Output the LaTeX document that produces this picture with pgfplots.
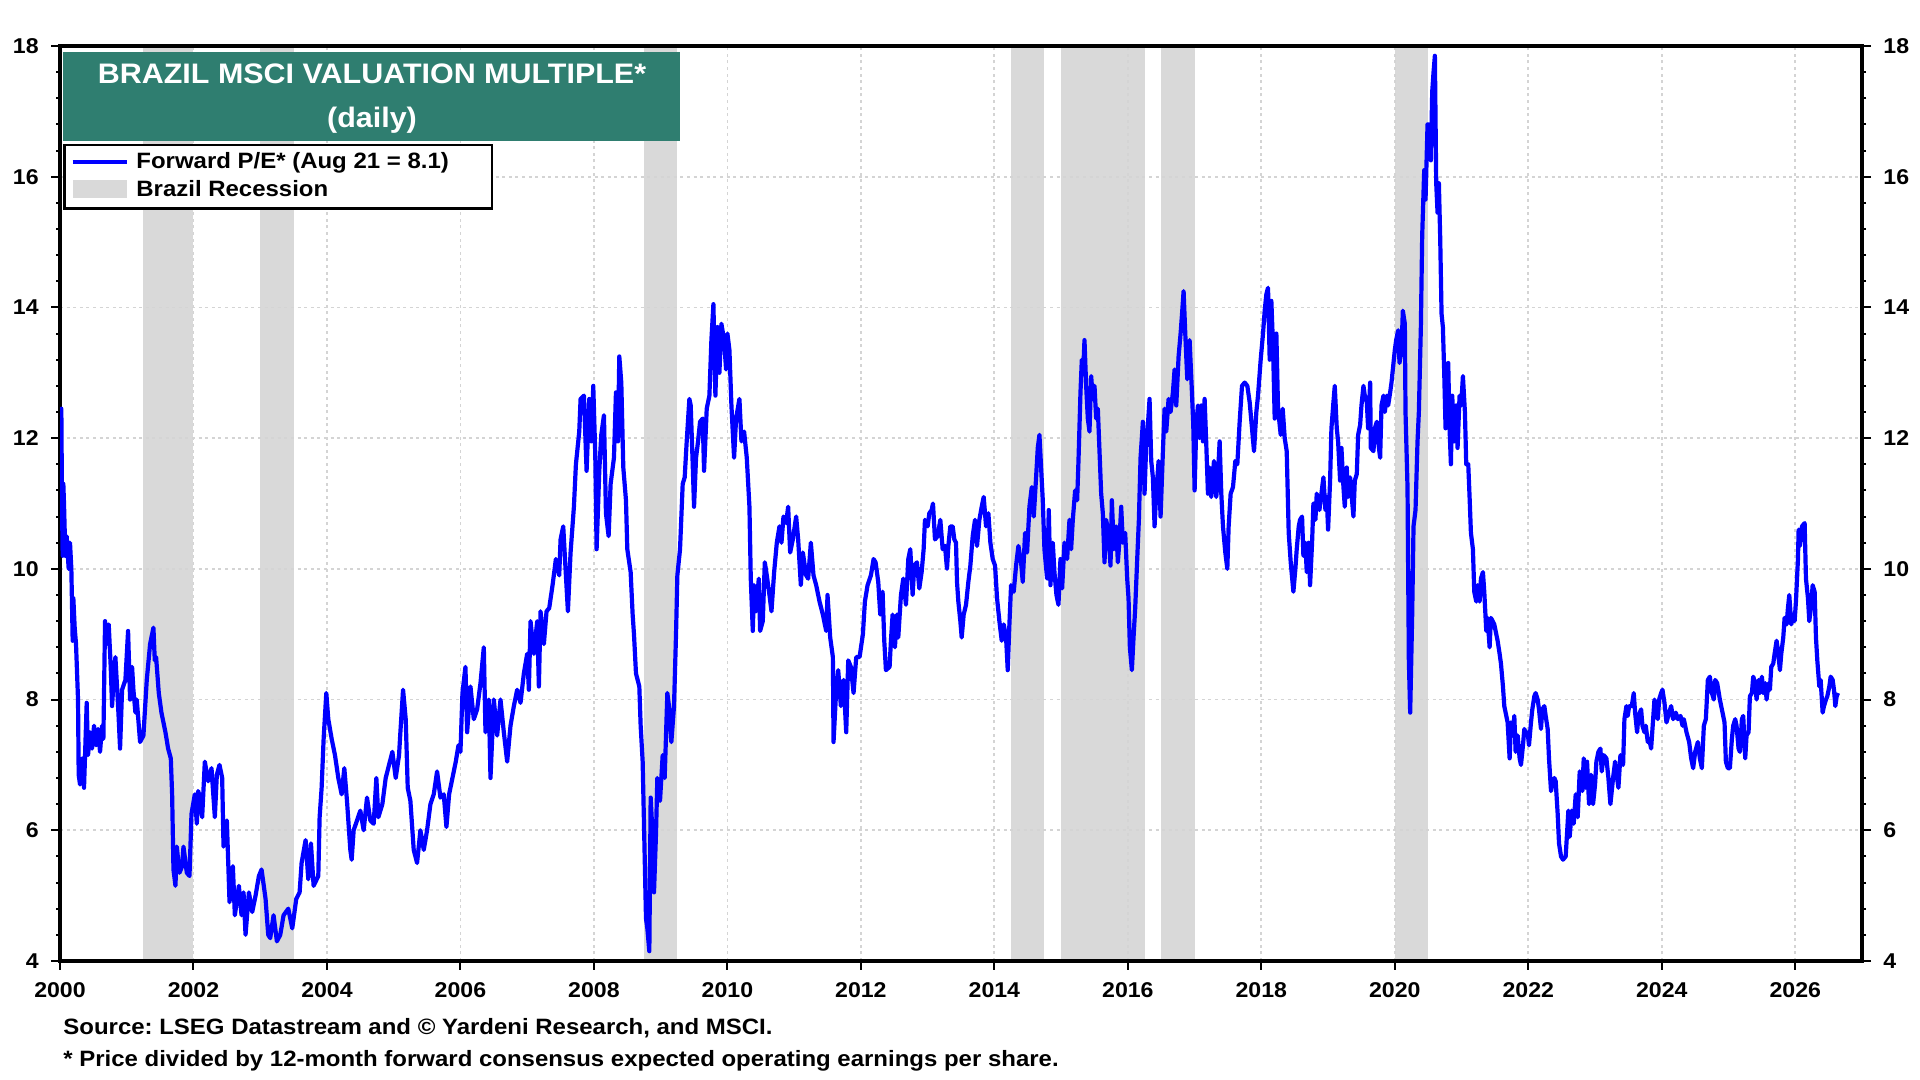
\documentclass[border=0pt]{standalone}
\usepackage{pgfplots}
\pgfplotsset{compat=1.18}
\usepackage{fontspec}
\setmainfont[FakeStretch=1.08]{Liberation Sans}
\definecolor{titlegreen}{RGB}{47,126,112}
\definecolor{bandgray}{RGB}{217,217,217}
\definecolor{gridgray}{RGB}{212,212,212}
\definecolor{pblue}{RGB}{0,0,255}
\begin{document}
\frenchspacing
\begin{tikzpicture}
\begin{axis}[
 set layers,
 at={(30pt,59.5pt)}, anchor=south west,
 scale only axis, width=901pt, height=457.5pt,
 xmin=2000, xmax=2027, ymin=4, ymax=18,
 xtick={2000,2002,...,2026},
 xticklabels={2000,2002,2004,2006,2008,2010,2012,2014,2016,2018,2020,2022,2024,2026},
 minor x tick num=7,
 ytick={4,6,...,18}, minor y tick num=4,
 xtick pos=bottom, ytick pos=left,
 tick align=outside,
 major tick length=4.5pt, minor tick length=2pt,
 tick style={black, line width=1pt},
 grid=major,
 major grid style={gridgray, line width=0.9pt, dash pattern=on 1.5pt off 1.8pt},
 axis line style={line width=1.6pt},
 tick label style={font=\bfseries\fontsize{10.7}{12}\selectfont},
 /pgf/number format/assume math mode=true,
 xticklabel style={inner sep=0pt, anchor=north, yshift=-6pt},
 yticklabel style={inner sep=0pt, anchor=east, xshift=-6pt},
]
\addplot[fill=bandgray, draw=none, on layer=axis background] coordinates {(2001.24,4) (2001.24,18) (2002,18) (2002,4)} -- cycle;
\addplot[fill=bandgray, draw=none, on layer=axis background] coordinates {(2003,4) (2003,18) (2003.5,18) (2003.5,4)} -- cycle;
\addplot[fill=bandgray, draw=none, on layer=axis background] coordinates {(2008.75,4) (2008.75,18) (2009.25,18) (2009.25,4)} -- cycle;
\addplot[fill=bandgray, draw=none, on layer=axis background] coordinates {(2014.25,4) (2014.25,18) (2014.75,18) (2014.75,4)} -- cycle;
\addplot[fill=bandgray, draw=none, on layer=axis background] coordinates {(2015,4) (2015,18) (2016.25,18) (2016.25,4)} -- cycle;
\addplot[fill=bandgray, draw=none, on layer=axis background] coordinates {(2016.5,4) (2016.5,18) (2017,18) (2017,4)} -- cycle;
\addplot[fill=bandgray, draw=none, on layer=axis background] coordinates {(2020,4) (2020,18) (2020.5,18) (2020.5,4)} -- cycle;
\addplot[pblue, line width=2.1pt, line join=round] coordinates {
(2000.00,11.3) (2000.02,12.45) (2000.03,11.0) (2000.04,10.2) (2000.05,11.3) (2000.06,11.0) (2000.08,10.2) (2000.10,10.5) (2000.13,10.0) (2000.15,10.4) (2000.17,10.0) (2000.19,8.9) (2000.20,9.55) (2000.22,9.1) (2000.24,8.85) (2000.27,8.0) (2000.28,6.85) (2000.30,6.7) (2000.33,7.1) (2000.36,6.65) (2000.40,7.95) (2000.42,7.15) (2000.45,7.5) (2000.48,7.25) (2000.51,7.6) (2000.54,7.3) (2000.57,7.55) (2000.60,7.2) (2000.63,7.6) (2000.65,7.4) (2000.675,9.2) (2000.70,8.85) (2000.73,9.15) (2000.76,8.5) (2000.78,7.9) (2000.81,8.4) (2000.83,8.65) (2000.86,8.1) (2000.88,7.7) (2000.90,7.25) (2000.93,8.15) (2000.98,8.3) (2001.02,9.05) (2001.05,8.0) (2001.08,8.5) (2001.10,8.15) (2001.13,7.8) (2001.15,8.0) (2001.20,7.35) (2001.25,7.45) (2001.30,8.3) (2001.35,8.85) (2001.40,9.1) (2001.42,8.6) (2001.44,8.65) (2001.48,8.1) (2001.52,7.8) (2001.58,7.5) (2001.62,7.25) (2001.66,7.1) (2001.68,6.55) (2001.70,5.4) (2001.73,5.15) (2001.75,5.75) (2001.79,5.35) (2001.83,5.45) (2001.85,5.75) (2001.90,5.35) (2001.94,5.3) (2001.97,6.25)
(2002.02,6.55) (2002.05,6.1) (2002.07,6.6) (2002.10,6.5) (2002.13,6.2) (2002.17,7.05) (2002.22,6.75) (2002.27,6.95) (2002.32,6.2) (2002.35,6.85) (2002.39,7.0) (2002.43,6.8) (2002.45,5.75) (2002.50,6.15) (2002.54,4.9) (2002.59,5.45) (2002.62,4.7) (2002.68,5.15) (2002.72,4.7) (2002.75,5.05) (2002.78,4.4) (2002.83,5.05) (2002.88,4.75) (2002.93,5.0) (2002.98,5.3) (2003.02,5.4) (2003.08,4.95) (2003.12,4.4) (2003.15,4.35) (2003.20,4.7) (2003.25,4.3) (2003.30,4.4) (2003.35,4.7) (2003.42,4.8) (2003.48,4.5) (2003.54,4.95) (2003.59,5.05) (2003.62,5.5) (2003.68,5.85) (2003.72,5.25) (2003.76,5.8) (2003.80,5.15) (2003.87,5.3) (2003.89,6.2) (2003.92,6.65) (2003.95,7.4) (2003.99,8.1)
(2004.02,7.7) (2004.07,7.4) (2004.12,7.15) (2004.17,6.8) (2004.22,6.55) (2004.26,6.95) (2004.30,6.45) (2004.35,5.7) (2004.37,5.55) (2004.40,6.0) (2004.45,6.15) (2004.50,6.3) (2004.55,6.0) (2004.60,6.5) (2004.65,6.15) (2004.70,6.1) (2004.74,6.8) (2004.77,6.2) (2004.83,6.4) (2004.88,6.8) (2004.93,7.0) (2004.98,7.2) (2005.03,6.8) (2005.08,7.15) (2005.10,7.5) (2005.14,8.15) (2005.18,7.7) (2005.21,6.65) (2005.25,6.45) (2005.30,5.7) (2005.35,5.5) (2005.40,6.0) (2005.45,5.7) (2005.50,6.0) (2005.55,6.4) (2005.60,6.55) (2005.65,6.9) (2005.70,6.5) (2005.75,6.55) (2005.79,6.05) (2005.83,6.55) (2005.88,6.8) (2005.93,7.05) (2005.97,7.3)
(2006.00,7.2) (2006.03,8.1) (2006.075,8.5) (2006.10,7.5) (2006.15,8.2) (2006.20,7.7) (2006.25,7.85) (2006.30,8.25) (2006.35,8.8) (2006.375,7.5) (2006.425,8.0) (2006.45,6.8) (2006.50,8.0) (2006.55,7.45) (2006.60,8.0) (2006.65,7.5) (2006.70,7.05) (2006.75,7.6) (2006.80,7.9) (2006.85,8.15) (2006.90,7.95) (2006.95,8.4) (2007.00,8.7) (2007.025,8.15) (2007.05,9.2) (2007.10,8.7) (2007.15,9.2) (2007.175,8.2) (2007.20,9.35) (2007.25,8.85) (2007.29,9.35) (2007.33,9.4) (2007.38,9.75) (2007.43,10.15) (2007.48,9.9) (2007.50,10.45) (2007.54,10.65) (2007.58,9.9) (2007.61,9.35) (2007.65,10.25) (2007.70,10.95) (2007.73,11.6) (2007.78,12.1) (2007.80,12.6) (2007.85,12.65) (2007.89,11.5) (2007.93,12.6) (2007.96,11.95) (2007.99,12.8)
(2008.02,11.75) (2008.04,10.3) (2008.08,11.5) (2008.11,12.05) (2008.15,12.35) (2008.18,10.85) (2008.22,10.5) (2008.25,11.3) (2008.30,11.7) (2008.33,12.7) (2008.36,11.95) (2008.38,13.25) (2008.41,12.85) (2008.44,11.55) (2008.48,11.05) (2008.50,10.3) (2008.55,9.95) (2008.58,9.3) (2008.60,9.0) (2008.63,8.4) (2008.68,8.2) (2008.70,7.6) (2008.73,7.05) (2008.75,6.1) (2008.78,4.65) (2008.80,4.5) (2008.83,4.15) (2008.85,6.5) (2008.88,5.9) (2008.90,5.05) (2008.93,5.95) (2008.95,6.8) (2008.99,6.45) (2009.03,7.15) (2009.06,6.8) (2009.10,8.1) (2009.13,7.85) (2009.16,7.35) (2009.20,7.9) (2009.23,9.0) (2009.25,9.9) (2009.29,10.3) (2009.33,11.3) (2009.36,11.4) (2009.39,11.95) (2009.43,12.6) (2009.45,12.5) (2009.48,11.6) (2009.50,10.95) (2009.53,11.7) (2009.56,11.95) (2009.59,12.25) (2009.63,12.3) (2009.65,11.5) (2009.69,12.45) (2009.73,12.65) (2009.76,13.5) (2009.79,14.05) (2009.82,12.65) (2009.85,13.7) (2009.88,13.0) (2009.91,13.75) (2009.95,13.5) (2009.98,13.05)
(2010.00,13.6) (2010.03,13.35) (2010.06,12.5) (2010.10,11.7) (2010.13,12.3) (2010.18,12.6) (2010.21,11.95) (2010.25,12.1) (2010.29,11.7) (2010.33,10.95) (2010.35,9.85) (2010.38,9.05) (2010.40,9.75) (2010.43,9.35) (2010.47,9.85) (2010.49,9.05) (2010.53,9.2) (2010.56,10.1) (2010.59,9.9) (2010.63,9.6) (2010.66,9.35) (2010.70,9.95) (2010.74,10.4) (2010.78,10.65) (2010.81,10.4) (2010.84,10.8) (2010.88,10.7) (2010.91,10.95) (2010.94,10.25) (2010.98,10.45) (2011.03,10.8) (2011.06,10.45) (2011.10,9.75) (2011.13,10.25) (2011.18,9.9) (2011.21,9.85) (2011.25,10.4) (2011.29,9.9) (2011.33,9.75) (2011.38,9.5) (2011.43,9.3) (2011.48,9.05) (2011.50,9.6) (2011.54,8.95) (2011.58,8.65) (2011.59,7.35) (2011.63,8.15) (2011.66,8.45) (2011.70,7.9) (2011.74,8.3) (2011.78,7.5) (2011.81,8.6) (2011.85,8.5) (2011.89,8.1) (2011.93,8.65) (2011.98,8.65)
(2012.03,9.0) (2012.06,9.5) (2012.10,9.75) (2012.15,9.9) (2012.19,10.15) (2012.22,10.1) (2012.26,9.8) (2012.29,9.3) (2012.325,9.65) (2012.35,8.9) (2012.375,8.45) (2012.43,8.5) (2012.45,8.9) (2012.475,9.3) (2012.51,8.8) (2012.54,9.3) (2012.56,8.95) (2012.60,9.6) (2012.635,9.85) (2012.675,9.45) (2012.71,10.15) (2012.74,10.3) (2012.775,9.6) (2012.80,10.05) (2012.84,10.1) (2012.875,9.7) (2012.91,9.95) (2012.94,10.3) (2012.96,10.75)
(2013.00,10.65) (2013.025,10.85) (2013.06,10.9) (2013.08,11.0) (2013.11,10.45) (2013.15,10.5) (2013.19,10.75) (2013.225,10.3) (2013.26,10.35) (2013.29,10.0) (2013.31,10.35) (2013.34,10.65) (2013.375,10.65) (2013.40,10.45) (2013.425,10.4) (2013.44,9.8) (2013.46,9.5) (2013.49,9.2) (2013.51,8.95) (2013.54,9.3) (2013.575,9.45) (2013.61,9.8) (2013.64,10.05) (2013.675,10.5) (2013.71,10.75) (2013.74,10.35) (2013.775,10.75) (2013.81,10.95) (2013.84,11.1) (2013.875,10.65) (2013.91,10.85) (2013.94,10.4) (2013.975,10.15)
(2014.01,10.05) (2014.04,9.55) (2014.075,9.2) (2014.11,8.9) (2014.14,9.15) (2014.175,8.95) (2014.20,8.45) (2014.225,9.15) (2014.25,9.75) (2014.29,9.65) (2014.325,10.05) (2014.36,10.35) (2014.40,10.1) (2014.425,9.8) (2014.46,10.55) (2014.49,10.25) (2014.525,10.95) (2014.56,11.25) (2014.59,10.8) (2014.625,11.4) (2014.65,11.85) (2014.675,12.05) (2014.70,11.55) (2014.725,11.05) (2014.75,10.3) (2014.79,9.85) (2014.815,10.9) (2014.84,9.75) (2014.875,10.4) (2014.90,9.95) (2014.93,9.6) (2014.96,9.45) (2014.99,10.15)
(2015.015,9.7) (2015.05,10.4) (2015.09,10.15) (2015.125,10.75) (2015.15,10.3) (2015.175,10.75) (2015.21,11.2) (2015.24,11.05) (2015.26,11.65) (2015.29,12.7) (2015.31,13.2) (2015.33,13.0) (2015.35,13.5) (2015.375,12.8) (2015.40,12.3) (2015.425,12.1) (2015.45,12.95) (2015.475,12.6) (2015.50,12.8) (2015.525,12.3) (2015.55,12.45) (2015.575,11.8) (2015.60,11.15) (2015.625,10.85) (2015.65,10.1) (2015.675,10.75) (2015.71,10.55) (2015.74,10.05) (2015.76,11.05) (2015.79,10.3) (2015.825,10.65) (2015.85,10.1) (2015.875,10.45) (2015.90,10.95) (2015.925,10.4) (2015.96,10.55) (2015.99,9.85)
(2016.01,9.55) (2016.03,8.8) (2016.06,8.45) (2016.085,8.95) (2016.11,9.4) (2016.14,10.15) (2016.165,10.75) (2016.19,11.7) (2016.225,12.25) (2016.25,11.15) (2016.275,11.9) (2016.30,12.2) (2016.325,12.6) (2016.35,11.65) (2016.375,11.4) (2016.40,10.65) (2016.425,11.15) (2016.46,11.65) (2016.49,10.8) (2016.525,11.8) (2016.55,12.45) (2016.575,12.1) (2016.61,12.6) (2016.64,12.4) (2016.675,12.7) (2016.70,13.05) (2016.725,12.5) (2016.76,13.25) (2016.79,13.6) (2016.815,13.95) (2016.835,14.25) (2016.86,13.6) (2016.89,12.9) (2016.925,13.5) (2016.96,12.7) (2016.98,12.2)
(2017.00,11.2) (2017.025,12.2) (2017.05,12.5) (2017.075,12.0) (2017.10,12.5) (2017.125,11.95) (2017.15,12.6) (2017.175,11.9) (2017.20,11.15) (2017.225,11.55) (2017.25,11.1) (2017.29,11.65) (2017.325,11.1) (2017.35,11.45) (2017.375,11.95) (2017.40,11.15) (2017.425,10.65) (2017.46,10.25) (2017.49,10.0) (2017.51,10.65) (2017.54,11.15) (2017.575,11.25) (2017.61,11.65) (2017.64,11.6) (2017.675,12.25) (2017.71,12.8) (2017.75,12.85) (2017.79,12.8) (2017.825,12.55) (2017.86,12.15) (2017.89,11.8) (2017.925,12.4) (2017.95,12.65) (2017.99,13.2)
(2018.025,13.6) (2018.05,13.95) (2018.075,14.2) (2018.10,14.3) (2018.125,13.2) (2018.15,14.1) (2018.175,13.4) (2018.20,12.3) (2018.225,13.6) (2018.25,12.45) (2018.29,12.05) (2018.32,12.45) (2018.35,12.0) (2018.38,11.8) (2018.41,10.55) (2018.44,10.1) (2018.48,9.65) (2018.51,10.0) (2018.53,10.3) (2018.56,10.65) (2018.58,10.75) (2018.61,10.8) (2018.63,10.2) (2018.66,10.4) (2018.68,9.95) (2018.71,10.4) (2018.73,9.75) (2018.76,10.4) (2018.78,11.0) (2018.81,10.75) (2018.83,11.15) (2018.87,10.9) (2018.90,11.15) (2018.93,11.4) (2018.96,10.9) (2018.98,11.1)
(2019.00,10.6) (2019.03,11.35) (2019.05,12.15) (2019.08,12.55) (2019.10,12.8) (2019.13,12.15) (2019.15,11.95) (2019.18,11.35) (2019.20,11.85) (2019.23,11.25) (2019.25,10.95) (2019.28,11.55) (2019.30,11.1) (2019.33,11.4) (2019.35,11.15) (2019.38,10.8) (2019.40,11.35) (2019.43,11.45) (2019.45,12.05) (2019.48,12.2) (2019.50,12.5) (2019.53,12.8) (2019.55,12.65) (2019.58,12.55) (2019.60,12.15) (2019.63,12.85) (2019.64,11.85) (2019.68,11.8) (2019.70,12.15) (2019.73,12.25) (2019.75,11.95) (2019.78,11.7) (2019.80,12.5) (2019.83,12.65) (2019.85,12.4) (2019.88,12.65) (2019.90,12.5) (2019.93,12.7) (2019.95,12.85) (2019.98,13.15)
(2020.00,13.35) (2020.02,13.5) (2020.05,13.65) (2020.07,13.15) (2020.10,13.35) (2020.12,13.95) (2020.15,13.75) (2020.16,12.4) (2020.19,11.25) (2020.21,8.6) (2020.23,7.8) (2020.26,9.3) (2020.28,10.65) (2020.31,10.9) (2020.34,11.95) (2020.36,12.4) (2020.39,13.7) (2020.41,15.1) (2020.44,16.1) (2020.46,15.65) (2020.49,16.8) (2020.51,16.8) (2020.54,16.25) (2020.56,17.3) (2020.58,17.6) (2020.60,17.85) (2020.62,15.9) (2020.64,15.45) (2020.66,15.9) (2020.68,15.05) (2020.70,13.9) (2020.72,13.7) (2020.74,13.0) (2020.76,12.15) (2020.80,13.15) (2020.82,12.15) (2020.84,11.6) (2020.86,12.65) (2020.89,11.95) (2020.92,12.5) (2020.94,11.85) (2020.97,12.65) (2020.995,12.5)
(2021.02,12.95) (2021.05,12.4) (2021.07,11.6) (2021.10,11.6) (2021.12,11.1) (2021.14,10.55) (2021.17,10.3) (2021.19,9.65) (2021.22,9.5) (2021.24,9.75) (2021.27,9.5) (2021.29,9.85) (2021.32,9.95) (2021.34,9.65) (2021.37,9.05) (2021.39,9.25) (2021.42,8.8) (2021.44,9.25) (2021.49,9.15) (2021.54,8.9) (2021.57,8.7) (2021.59,8.55) (2021.62,8.2) (2021.64,7.9) (2021.66,7.8) (2021.69,7.65) (2021.72,7.1) (2021.74,7.65) (2021.77,7.45) (2021.79,7.75) (2021.81,7.2) (2021.84,7.45) (2021.87,7.1) (2021.89,7.0) (2021.92,7.3) (2021.94,7.55) (2021.97,7.45) (2021.99,7.5)
(2022.01,7.3) (2022.04,7.65) (2022.06,7.85) (2022.09,8.05) (2022.11,8.1) (2022.14,8.0) (2022.16,7.85) (2022.19,7.55) (2022.21,7.85) (2022.24,7.9) (2022.26,7.75) (2022.29,7.55) (2022.31,7.1) (2022.34,6.6) (2022.36,6.7) (2022.39,6.8) (2022.41,6.75) (2022.44,6.25) (2022.46,5.8) (2022.49,5.6) (2022.52,5.55) (2022.56,5.6) (2022.60,6.3) (2022.62,5.9) (2022.65,6.3) (2022.68,6.1) (2022.71,6.55) (2022.74,6.2) (2022.77,6.9) (2022.81,6.6) (2022.83,7.1) (2022.86,6.65) (2022.88,7.05) (2022.91,6.4) (2022.94,6.85) (2022.97,6.4)
(2023.00,6.7) (2023.02,7.05) (2023.05,7.2) (2023.08,7.25) (2023.10,6.9) (2023.13,7.15) (2023.17,7.1) (2023.20,6.8) (2023.23,6.4) (2023.27,6.8) (2023.30,7.05) (2023.33,6.8) (2023.35,6.65) (2023.38,7.15) (2023.42,7.0) (2023.44,7.7) (2023.47,7.9) (2023.49,7.75) (2023.51,7.9) (2023.55,7.9) (2023.58,8.1) (2023.60,7.8) (2023.63,7.5) (2023.65,7.75) (2023.69,7.85) (2023.71,7.6) (2023.74,7.5) (2023.76,7.6) (2023.79,7.35) (2023.81,7.4) (2023.84,7.25) (2023.86,7.55) (2023.89,8.0) (2023.91,7.85) (2023.94,7.7) (2023.96,8.0) (2023.99,8.1)
(2024.01,8.15) (2024.04,7.95) (2024.07,7.65) (2024.11,7.8) (2024.14,7.9) (2024.17,7.7) (2024.21,7.8) (2024.24,7.7) (2024.28,7.75) (2024.31,7.6) (2024.33,7.7) (2024.37,7.5) (2024.41,7.35) (2024.44,7.1) (2024.47,6.95) (2024.50,7.2) (2024.54,7.35) (2024.57,7.1) (2024.60,6.95) (2024.63,7.6) (2024.66,7.7) (2024.69,8.3) (2024.72,8.35) (2024.75,8.1) (2024.78,8.0) (2024.80,8.3) (2024.83,8.25) (2024.87,8.0) (2024.90,7.85) (2024.94,7.65) (2024.96,7.05) (2024.99,6.95)
(2025.02,6.95) (2025.05,7.4) (2025.07,7.6) (2025.10,7.7) (2025.12,7.6) (2025.15,7.25) (2025.17,7.2) (2025.20,7.7) (2025.22,7.75) (2025.25,7.1) (2025.27,7.45) (2025.30,7.5) (2025.32,8.05) (2025.35,8.1) (2025.37,8.35) (2025.40,8.25) (2025.42,8.0) (2025.45,8.3) (2025.47,8.1) (2025.50,8.35) (2025.52,8.1) (2025.55,8.25) (2025.57,8.0) (2025.60,8.25) (2025.62,8.15) (2025.64,8.5) (2025.67,8.55) (2025.69,8.7) (2025.72,8.9) (2025.74,8.75) (2025.77,8.45) (2025.79,8.7) (2025.82,8.95) (2025.84,9.25) (2025.87,9.15) (2025.89,9.4) (2025.91,9.6) (2025.94,9.15) (2025.97,9.3) (2025.99,9.2)
(2026.01,9.5) (2026.04,10.15) (2026.05,10.6) (2026.07,10.35) (2026.10,10.65) (2026.14,10.7) (2026.16,9.85) (2026.19,9.55) (2026.21,9.2) (2026.24,9.45) (2026.26,9.75) (2026.29,9.65) (2026.31,8.95) (2026.33,8.6) (2026.36,8.2) (2026.38,8.3) (2026.41,7.8) (2026.43,7.9) (2026.46,8.0) (2026.48,8.05) (2026.51,8.2) (2026.53,8.35) (2026.56,8.3) (2026.58,8.15) (2026.60,7.9) (2026.62,8.05) (2026.64,8.1)
};
\end{axis}
\begin{axis}[
 at={(30pt,59.5pt)}, anchor=south west,
 scale only axis, width=901pt, height=457.5pt,
 xmin=2000, xmax=2027, ymin=4, ymax=18,
 axis x line=none, axis y line*=right,
 ytick={4,6,...,18}, minor y tick num=4,
 tick align=outside,
 major tick length=4.5pt, minor tick length=2pt,
 tick style={black, line width=1pt},
 axis line style={line width=1.6pt},
 tick label style={font=\bfseries\fontsize{10.7}{12}\selectfont},
 /pgf/number format/assume math mode=true,
 yticklabel style={inner sep=0pt, anchor=west, xshift=6pt},
]
\addplot[draw=none] coordinates {(2000,4) (2027,18)};
\end{axis}
\fill[titlegreen] (31.65pt,469.5pt) rectangle (340pt,514.2pt);
\node[anchor=base, text=white, inner sep=0pt, font=\bfseries\fontsize{14.1}{16}\selectfont] at (186pt,498pt) {BRAZIL MSCI VALUATION MULTIPLE*};
\node[anchor=base, text=white, inner sep=0pt, font=\bfseries\fontsize{14.1}{16}\selectfont] at (186pt,476pt) {(daily)};
\draw[line width=1.3pt, fill=white] (32.1pt,435.8pt) rectangle (246pt,467.4pt);
\draw[pblue, line width=2pt] (36.3pt,458.8pt) -- (63.3pt,458.8pt);
\fill[bandgray] (36.3pt,441pt) rectangle (63.3pt,450pt);
\node[anchor=base west, inner sep=0pt, font=\bfseries\fontsize{11.1}{13}\selectfont] at (68pt,455.5pt) {Forward P/E* (Aug 21 = 8.1)};
\node[anchor=base west, inner sep=0pt, font=\bfseries\fontsize{11.1}{13}\selectfont] at (68pt,441.7pt) {Brazil Recession};
\node[anchor=base west, inner sep=0pt, font=\bfseries\fontsize{11.1}{13}\selectfont] at (31.5pt,22.8pt) {Source: LSEG Datastream and © Yardeni Research, and MSCI.};
\node[anchor=base west, inner sep=0pt, font=\bfseries\fontsize{11.1}{13}\selectfont] at (31.5pt,6.5pt) {* Price divided by 12-month forward consensus expected operating earnings per share.};
\pgfresetboundingbox
\useasboundingbox (0,0) rectangle (960pt,540pt);
\end{tikzpicture}
\end{document}
